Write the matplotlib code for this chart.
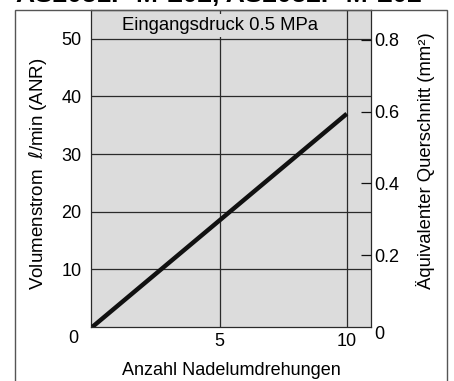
import matplotlib
matplotlib.use("Agg")
import matplotlib.pyplot as plt
from matplotlib.patches import Rectangle

# Durchflusskennlinie: Volumenstrom über Nadelumdrehungen
umdrehungen = [0, 10]
volumenstrom = [0, 37]
x_ticks = [5, 10]
y_ticks = [10, 20, 30, 40, 50]
q_ticks = [0.2, 0.4, 0.6, 0.8]
# Umrechnung l/min (ANR) -> mm² bei 0.5 MPa
FAKTOR = 62.3

GRAU = "#dcdcdc"; LINIE = "#2a2a2a"; RAHMEN = "#555555"

plt.rcParams.update({"font.family": ["Liberation Sans", "DejaVu Sans"], "font.size": 13,
                     "mathtext.fontset": "custom", "mathtext.it": "DejaVu Sans:italic",
                     "mathtext.rm": "Liberation Sans"})

fig = plt.figure(figsize=(4.54, 3.81), dpi=100)
ax = fig.add_axes([91 / 454, 1 - 327 / 381, 280 / 454, 317 / 381])
ax.set_facecolor(GRAU)

ax.plot(umdrehungen, volumenstrom, color="#111111", lw=3.2, solid_capstyle="butt", zorder=5)
ax.set_xlim(-0.05, 10.95)
ax.set_ylim(0, 55)

ax.set_xticks(x_ticks, [str(t) for t in x_ticks])
ax.set_yticks(y_ticks, [str(t) for t in y_ticks])
ax.tick_params(axis="both", length=0, labelsize=13)
ax.tick_params(axis="y", pad=7)
ax.tick_params(axis="x", pad=4)
ax.grid(color=LINIE, lw=0.9)
ax.set_axisbelow(True)
for s in ax.spines.values():
    s.set_color(LINIE)
    s.set_linewidth(0.9)

# gemeinsame Null unten links
ax.text(-0.064, -0.035, "0", transform=ax.transAxes, ha="center", va="center", fontsize=13)

ax.set_xlabel("Anzahl Nadelumdrehungen", fontsize=13, labelpad=9)
ax.set_ylabel(r"Volumenstrom  $\ell$/min (ANR)", fontsize=13.5)
ax.yaxis.set_label_coords(-0.15, 0.485)

ax.text(5, 52.3, "Eingangsdruck 0.5 MPa", ha="center", va="center", fontsize=13.3,
        bbox=dict(boxstyle="square,pad=0.15", fc=GRAU, ec="none"), zorder=6)

# rechte Achse: äquivalenter Querschnitt
ax2 = ax.twinx()
ax2.set_ylim(0, 55 / FAKTOR)
ax2.set_yticks(q_ticks, [f"{t:.1f}" for t in q_ticks])
ax2.tick_params(axis="y", direction="in", length=7, width=0.9, color="#111111",
                pad=2, labelsize=13)
for s in ax2.spines.values():
    s.set_visible(False)
ax2.text(1.03, -0.025, "0", transform=ax2.transAxes, ha="center", va="center", fontsize=13)
ax2.set_ylabel("Äquivalenter Querschnitt (mm²)", fontsize=13.3)
ax2.yaxis.set_label_coords(1.16, 0.525)

# Außenrahmen und angeschnittener Titel
fig.patches.append(Rectangle((15 / 454, -0.05), 432 / 454, 1.05 - 10 / 381,
                             transform=fig.transFigure, fill=False, ec=RAHMEN, lw=1.0))
fig.text(0.035, 1 - 1.5 / 381, "AS2051F-M-L02, AS2052F-M-L02", fontsize=19,
         fontweight="bold", ha="left", va="baseline")

fig.savefig("out.png", dpi=100)
